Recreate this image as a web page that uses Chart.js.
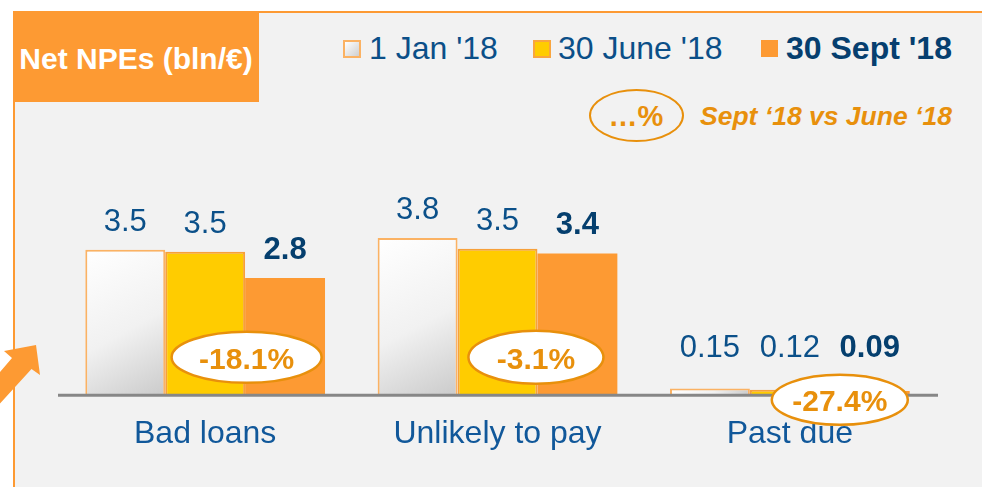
<!DOCTYPE html>
<html><head><meta charset="utf-8">
<script src="https://cdn.jsdelivr.net/npm/chart.js@4.4.1/dist/chart.umd.min.js"></script>
<style>
html,body{margin:0;padding:0;background:#fff;}
#wrap{position:relative;width:982px;height:487px;overflow:hidden;font-family:"Liberation Sans",Arial,sans-serif;}
#panel{position:absolute;left:13px;top:11px;right:0;bottom:0;background:#f2f2f2;border-top:2px solid #fd9a33;border-left:2px solid #fd9a33;}
#title{position:absolute;left:13px;top:11px;width:246px;height:91px;background:#fd9a33;}
#title span{position:absolute;left:0;width:246px;top:33px;text-align:center;color:#fff;font-weight:bold;font-size:30px;line-height:30px;white-space:nowrap;}
.lg{position:absolute;top:32px;font-size:32px;line-height:32px;color:#0b4f88;white-space:nowrap;}
.lgb{font-weight:bold;color:#063f6f;}
.box{position:absolute;box-sizing:border-box;}
#note{position:absolute;left:700px;top:103px;font-size:26.5px;line-height:26px;font-weight:bold;font-style:italic;color:#e8900c;white-space:nowrap;}
#pct{position:absolute;left:589px;top:89px;width:95px;height:53px;box-sizing:border-box;border:2.5px solid #e8900c;border-radius:50%;}
#pct span{position:absolute;left:0;width:90px;top:11px;text-align:center;font-weight:bold;font-size:29px;line-height:29px;color:#e8900c;}
canvas{position:absolute;left:0;top:0;}
#arrow{position:absolute;left:0;top:0;}
</style>
</head><body>
<div id="wrap">
  <div id="panel"></div>
  <div id="title"><span>Net NPEs (bln/€)</span></div>
  <div id="legend"></div>
  <div id="pct"><span>…%</span></div>
  <div id="note">Sept ‘18 vs June ‘18</div>
  <canvas id="c" width="982" height="487"></canvas>
  <svg id="arrow" width="60" height="487"><polygon points="36,345 40,375 31.5,369 -6,410 -20,395 12,358 4,351" fill="#fd9a33"/></svg>
</div>
<script>
const categories = ['Bad loans', 'Unlikely to pay', 'Past due'];
const seriesNames = ["1 Jan '18", "30 June '18", "30 Sept '18"];
const jan18 = [3.5, 3.78, 0.15];
const jun18 = [3.45, 3.52, 0.12];
const sep18 = [2.82, 3.41, 0.09];
const janLabels = ['3.5', '3.8', '0.15'];
const junLabels = ['3.5', '3.5', '0.12'];
const sepLabels = ['2.8', '3.4', '0.09'];
const changeLabels = ['-18.1%', '-3.1%', '-27.4%'];

// HTML legend
(function(){
  const lg = document.getElementById('legend');
  const items = [
    {box:{left:343,top:40,w:18,h:18,bg:'linear-gradient(135deg,#ffffff,#cfcfcf)',border:'2px solid #fbb263'}, text:{left:369,bold:false}},
    {box:{left:533,top:40,w:18,h:18,bg:'#ffcc00',border:'2px solid #f9a53f'}, text:{left:558,bold:false}},
    {box:{left:761,top:40,w:17,h:17,bg:'#fd9a33',border:'none'}, text:{left:786,bold:true}}
  ];
  items.forEach((it,i)=>{
    const b = document.createElement('div');
    b.className='box';
    Object.assign(b.style,{left:it.box.left+'px',top:it.box.top+'px',width:it.box.w+'px',height:it.box.h+'px',background:it.box.bg,border:it.box.border});
    lg.appendChild(b);
    const t = document.createElement('div');
    t.className = 'lg' + (it.text.bold ? ' lgb' : '');
    t.style.left = it.text.left+'px';
    t.textContent = seriesNames[i];
    lg.appendChild(t);
  });
})();

const GROUP = 0.82;

function janGradient(ctx){
  const chart = ctx.chart;
  const sx = chart.scales.x, sy = chart.scales.y;
  if (!chart.chartArea || !sx || !sy || ctx.dataIndex === undefined) return '#f4f4f4';
  const cw = (sx.right - sx.left) / categories.length;
  const gw = cw * GROUP;
  const cx = sx.getPixelForValue(ctx.dataIndex);
  const x0 = cx - gw / 2, x1 = x0 + gw / 3;
  const yT = sy.getPixelForValue(jan18[ctx.dataIndex]);
  const yB = sy.getPixelForValue(0);
  const g = chart.ctx.createLinearGradient(x0, yT, x1, yB);
  g.addColorStop(0, '#ffffff');
  g.addColorStop(0.55, '#f1f1f1');
  g.addColorStop(1, '#cbcbcb');
  return g;
}

const decor = {
  id: 'decor',
  afterDatasetsDraw(chart){
    const c = chart.ctx;
    const sy = chart.scales.y;
    const base = sy.getPixelForValue(0);
    const area = chart.chartArea;
    // baseline
    c.save();
    c.strokeStyle = '#878787';
    c.lineWidth = 3;
    c.beginPath();
    c.moveTo(area.left - 1, base + 0.5);
    c.lineTo(area.right + 2, base + 0.5);
    c.stroke();
    // ovals with change %
    const sepMeta = chart.getDatasetMeta(2);
    const dx = [1.5, -1.5, 10], dy = [-37.5, -37.5, 5];
    const rx = [75, 67.5, 68], ry = [25.5, 26.5, 25];
    sepMeta.data.forEach((el, i) => {
      const cx = el.x - el.width / 2 + dx[i];
      const cy = base + dy[i];
      c.beginPath();
      c.ellipse(cx, cy, rx[i], ry[i], 0, 0, Math.PI * 2);
      c.fillStyle = '#ffffff';
      c.fill();
      c.lineWidth = 2.5;
      c.strokeStyle = '#e8900c';
      c.stroke();
      c.fillStyle = '#e8900c';
      c.font = 'bold 30px "Liberation Sans", Arial, sans-serif';
      c.textAlign = 'center';
      c.textBaseline = 'alphabetic';
      c.fillText(changeLabels[i], cx, cy + 11.5);
    });
    // value labels
    const labelSets = [janLabels, junLabels, sepLabels];
    chart.data.datasets.forEach((ds, di) => {
      const meta = chart.getDatasetMeta(di);
      meta.data.forEach((el, i) => {
        const y = Math.min(el.y - 19, base - 38);
        c.font = (di === 2 ? 'bold ' : '') + '31px "Liberation Sans", Arial, sans-serif';
        c.fillStyle = di === 2 ? '#053f6e' : '#0b5089';
        c.textAlign = 'center';
        c.textBaseline = 'alphabetic';
        c.fillText(labelSets[di][i], el.x, y);
      });
    });
    c.restore();
  }
};

new Chart(document.getElementById('c'), {
  type: 'bar',
  data: {
    labels: categories,
    datasets: [
      {label: seriesNames[0], data: jan18, backgroundColor: janGradient, borderColor: '#fbb263', borderWidth: 2},
      {label: seriesNames[1], data: jun18, backgroundColor: '#ffcc00', borderColor: '#f7a03a', borderWidth: 2},
      {label: seriesNames[2], data: sep18, backgroundColor: '#fd9a33', borderWidth: 0}
    ]
  },
  options: {
    responsive: false,
    animation: false,
    devicePixelRatio: 1,
    layout: {padding: {left: 59, right: 46, top: 187.5, bottom: 13.8}},
    datasets: {bar: {barPercentage: 1, categoryPercentage: GROUP}},
    plugins: {legend: {display: false}, tooltip: {enabled: false}},
    scales: {
      x: {
        grid: {display: false, drawTicks: false},
        border: {display: false},
        ticks: {color: '#11589a', font: {family: '"Liberation Sans", Arial, sans-serif', size: 32}, padding: 20}
      },
      y: {display: false, min: 0, max: 5}
    }
  },
  plugins: [decor]
});
</script>
</body></html>
